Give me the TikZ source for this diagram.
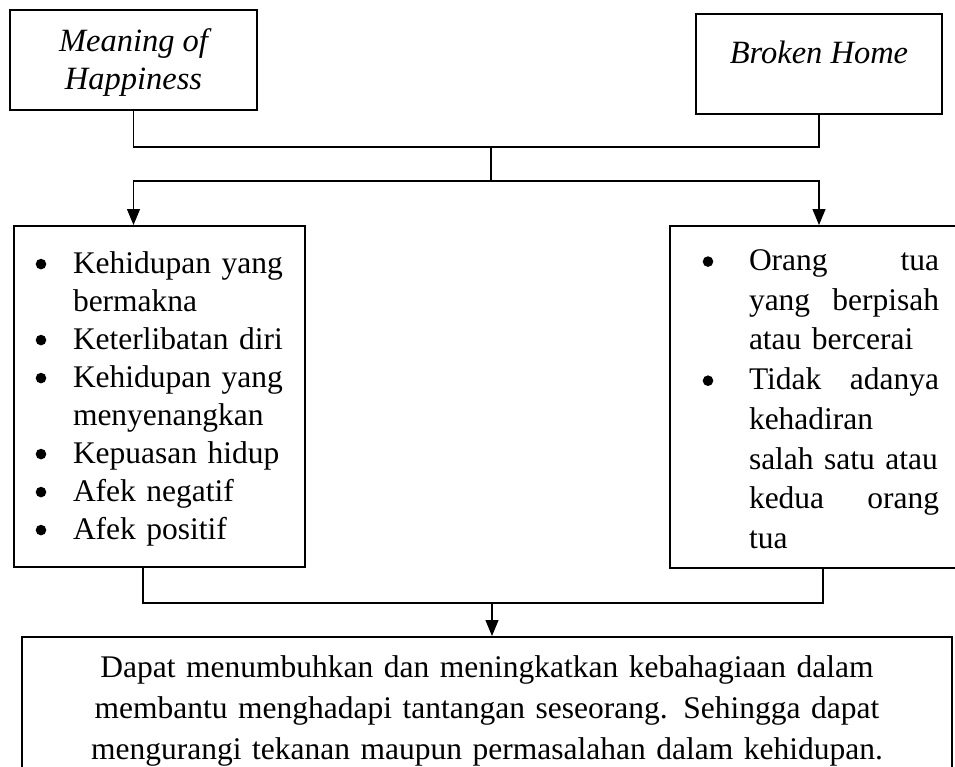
\documentclass[tikz,border=0pt]{standalone}
\usepackage{fontspec}
\setmainfont{Liberation Serif}
\usetikzlibrary{arrows.meta}

\newcommand{\titik}{\raisebox{4.5pt}{\tikz[baseline=0pt]\fill (0,0) circle (2.65pt);}}
\newcommand{\butir}[1][19.25pt]{\makebox[#1][l]{\hspace{0.6pt}\titik}}
\newcommand{\lanjut}[1][19.25pt]{\hspace*{#1}}
\newcommand{\rata}[1]{\makebox[95pt][s]{#1}}

\begin{document}
\begin{tikzpicture}[x=0.5pt,y=-0.5pt,
    kotak/.style={draw,line width=1pt,inner sep=0pt},
    judul/.style={kotak,align=center,minimum height=50pt,
        font=\fontsize{16.25}{19}\selectfont\itshape},
    garis/.style={line width=0.6pt},
    >={Triangle[width=6.5pt,length=8pt]}]
    \useasboundingbox (0,0) rectangle (955,767);
    \clip (0,0) rectangle (955,767);

    % top boxes
    \node[judul,anchor=north west,minimum width=123.5pt,text depth=1.2pt] (happy) at (9,9) {Meaning of\\Happiness};
    \node[judul,anchor=north west,minimum width=123pt,text depth=12.2pt] (broken) at (695,13) {Broken Home};

    % lists
    \node[kotak,anchor=north west,text width=125pt,inner xsep=10.25pt,text depth=134.35pt,
          minimum height=170.5pt,align=left,font=\fontsize{15.75}{19}\selectfont] (dimensi) at (13,225)
        {\butir\mbox{Kehidupan yang}\\
         \lanjut\mbox{bermakna}\\
         \butir\mbox{Keterlibatan diri}\\
         \butir\mbox{Kehidupan yang}\\
         \lanjut\mbox{menyenangkan}\\
         \butir\mbox{Kepuasan hidup}\\
         \butir\mbox{Afek negatif}\\
         \butir\mbox{Afek positif}};
    \node[kotak,anchor=north west,text width=118.75pt,inner xsep=15.75pt,text depth=136.85pt,
          minimum height=171pt,align=left,font=\fontsize{15.75}{19.85}\selectfont] (faktor) at (669,225)
        {\butir[23.75pt]\rata{Orang\hfill tua}\\
         \lanjut[23.75pt]\rata{yang\hfill berpisah}\\
         \lanjut[23.75pt]\mbox{atau bercerai}\\
         \butir[23.75pt]\rata{Tidak\hfill adanya}\\
         \lanjut[23.75pt]\mbox{kehadiran}\\
         \lanjut[23.75pt]\mbox{salah satu atau}\\
         \lanjut[23.75pt]\rata{kedua\hfill orang}\\
         \lanjut[23.75pt]\mbox{tua}};

    % conclusion
    \node[kotak,anchor=north west,text width=445pt,inner xsep=10pt,inner ysep=9.5pt,
          align=center,font=\fontsize{15.75}{20.5}\selectfont] (simpulan) at (21,636)
        {Dapat menumbuhkan dan meningkatkan kebahagiaan dalam\\
         membantu menghadapi tantangan seseorang. Sehingga dapat\\
         mengurangi tekanan maupun permasalahan dalam kehidupan.};

    % connectors
    \coordinate (temuA) at (491,147);
    \coordinate (temuB) at (491,181);
    \coordinate (temuC) at (492,603);
    \draw[garis] (happy.south) |- (temuA) -| (broken.south);
    \draw[garis] (temuA) -- (temuB);
    \draw[garis,->] (temuB) -| (happy.south |- dimensi.north);
    \draw[garis,->] (temuB) -| (broken.south |- faktor.north);
    \draw[garis] (dimensi.south west) ++(130,0) |- (temuC);
    \draw[garis] (faktor.south west) ++(154,0) |- (temuC);
    \draw[garis,->] (temuC) -- (temuC |- simpulan.north);
\end{tikzpicture}
\end{document}
